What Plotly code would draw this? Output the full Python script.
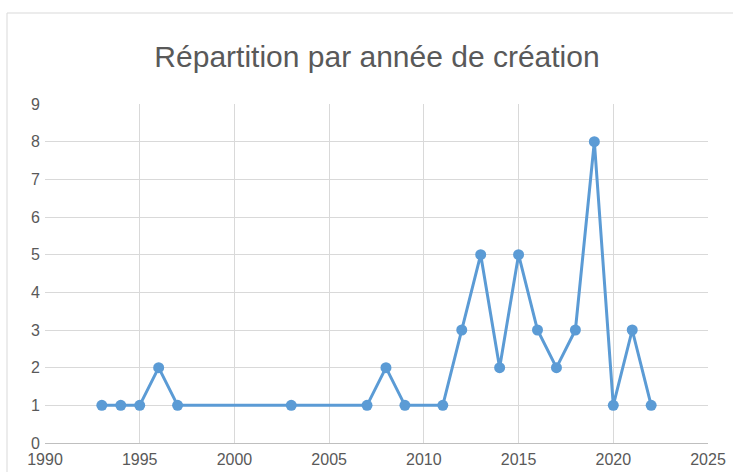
import plotly.graph_objects as go

years = [1993, 1994, 1995, 1996, 1997, 2003, 2007, 2008, 2009, 2011, 2012,
         2013, 2014, 2015, 2016, 2017, 2018, 2019, 2020, 2021, 2022]
counts = [1, 1, 1, 2, 1, 1, 1, 2, 1, 1, 3, 5, 2, 5, 3, 2, 3, 8, 1, 3, 1]
title_text = "Répartition par année de création"

W, H = 733, 472
ml, mr, mt, mb = 45, 25, 104, 29
pw, ph = W - ml - mr, H - mt - mb

fig = go.Figure()
fig.add_trace(go.Scatter(
    x=years, y=counts, mode="lines+markers",
    line=dict(color="#5b9bd5", width=3),
    marker=dict(color="#5b9bd5", size=11, symbol="circle"),
    hoverinfo="x+y",
))

font_fam = "Liberation Sans, Arial, sans-serif"
fig.update_layout(
    width=W, height=H,
    margin=dict(l=ml, r=mr, t=mt, b=mb),
    paper_bgcolor="white", plot_bgcolor="white",
    showlegend=False,
    title=dict(text=title_text, x=377 / W, xanchor="center",
               y=1 - 56 / H, yanchor="middle",
               font=dict(family=font_fam, size=30, color="#595959")),
    xaxis=dict(range=[1990, 2025], tick0=1990, dtick=5, showgrid=True,
               gridcolor="#d9d9d9", gridwidth=1, zeroline=False,
               showline=True, linecolor="#bfbfbf", linewidth=1,
               ticks="", automargin=False, ticklabelstandoff=2,
               tickfont=dict(family=font_fam, size=16, color="#595959"),
               fixedrange=True),
    yaxis=dict(range=[0, 9], dtick=1, showgrid=True, gridcolor="#d9d9d9",
               gridwidth=1, zeroline=False, showline=False, ticks="",
               automargin=False, ticklabelstandoff=4,
               tickfont=dict(family=font_fam, size=16, color="#595959"),
               fixedrange=True),
    shapes=[dict(type="rect", xref="paper", yref="paper",
                 x0=(7 - ml) / pw, x1=(W + 20 - ml) / pw,
                 y0=-(mb + 20) / ph, y1=1 + (mt - 13) / ph,
                 line=dict(color="#d9d9d9", width=1), layer="below")],
)

fig.write_html("out.html", config={"displayModeBar": False},
               post_script="document.body.style.margin='0';document.body.style.overflow='hidden';")
